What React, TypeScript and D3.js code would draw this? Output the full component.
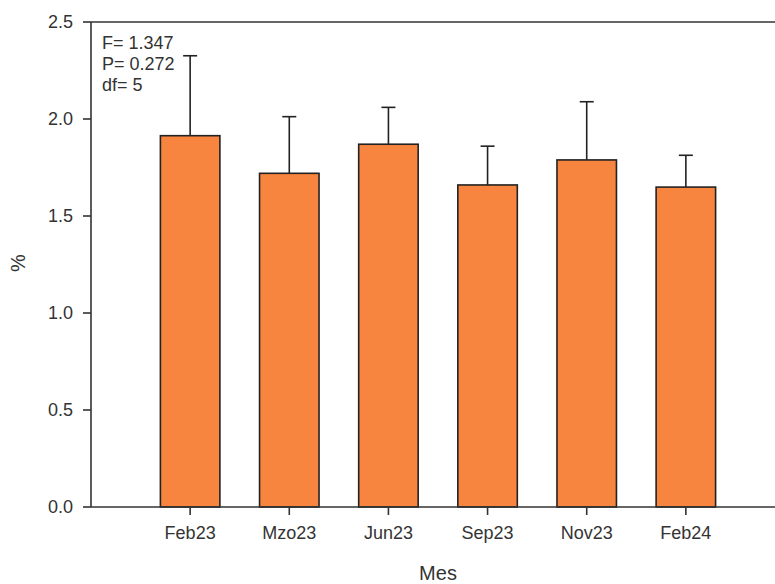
import React from "react";
import * as d3 from "d3";

const categories = ["Feb23", "Mzo23", "Jun23", "Sep23", "Nov23", "Feb24"];
const means = [1.914, 1.72, 1.87, 1.66, 1.789, 1.649];
const errors = [0.412, 0.292, 0.19, 0.2, 0.3, 0.164];
const yTicks = [0.0, 0.5, 1.0, 1.5, 2.0, 2.5];
const statsLines = ["F= 1.347", "P= 0.272", "df= 5"];

const W = 775;
const H = 584;
const left = 91;
const top = 22;
const bottom = 507;
const right = 785;
const FONT = "'Liberation Sans', Arial, sans-serif";
const TXT = "#333";

export default function App() {
  const x = d3.scaleLinear().domain([0, categories.length + 1]).range([left, right]);
  const y = d3.scaleLinear().domain([0, 2.5]).range([bottom, top]);
  const step = x(1) - x(0);
  const bw = step * 0.6;
  const cap = 7;

  return (
    <svg width={W} height={H} style={{ position: "absolute", left: 0, top: 0, background: "#fff" }}>
      <rect x={0} y={0} width={W} height={H} fill="#fff" />
      {categories.map((c, i) => {
        const cx = x(i + 1);
        const yt = y(means[i]);
        const ye = y(means[i] + errors[i]);
        return (
          <g key={c}>
            <line x1={cx} x2={cx} y1={yt} y2={ye} stroke="#222" strokeWidth={1.6} />
            <line x1={cx - cap} x2={cx + cap} y1={ye} y2={ye} stroke="#222" strokeWidth={1.6} />
            <rect x={cx - bw / 2} y={yt} width={bw} height={y(0) - yt} fill="#F7843F" stroke="#222" strokeWidth={1.6} />
          </g>
        );
      })}
      <line x1={left} x2={W} y1={top} y2={top} stroke="#333" strokeWidth={1.6} />
      <line x1={left} x2={W} y1={bottom} y2={bottom} stroke="#333" strokeWidth={1.6} />
      <line x1={left} x2={left} y1={top} y2={bottom} stroke="#333" strokeWidth={1.6} />
      {yTicks.map((t) => (
        <g key={t}>
          <line x1={left - 8} x2={left} y1={y(t)} y2={y(t)} stroke="#333" strokeWidth={1.6} />
          <text x={73} y={y(t)} dy="0.35em" textAnchor="end" fontFamily={FONT} fontSize={18} fill={TXT}>
            {t.toFixed(1)}
          </text>
        </g>
      ))}
      {categories.map((c, i) => (
        <g key={c}>
          <line x1={x(i + 1)} x2={x(i + 1)} y1={bottom} y2={bottom + 8} stroke="#333" strokeWidth={1.6} />
          <text x={x(i + 1)} y={bottom + 32} textAnchor="middle" fontFamily={FONT} fontSize={18} fill={TXT}>
            {c}
          </text>
        </g>
      ))}
      {statsLines.map((s, i) => (
        <text key={s} x={102} y={49 + i * 21} fontFamily={FONT} fontSize={18} fill={TXT}>
          {s}
        </text>
      ))}
      <text x={438} y={580} textAnchor="middle" fontFamily={FONT} fontSize={20} fill={TXT}>
        Mes
      </text>
      <text transform="translate(25,263) rotate(-90)" textAnchor="middle" fontFamily={FONT} fontSize={20} fill={TXT}>
        %
      </text>
    </svg>
  );
}
